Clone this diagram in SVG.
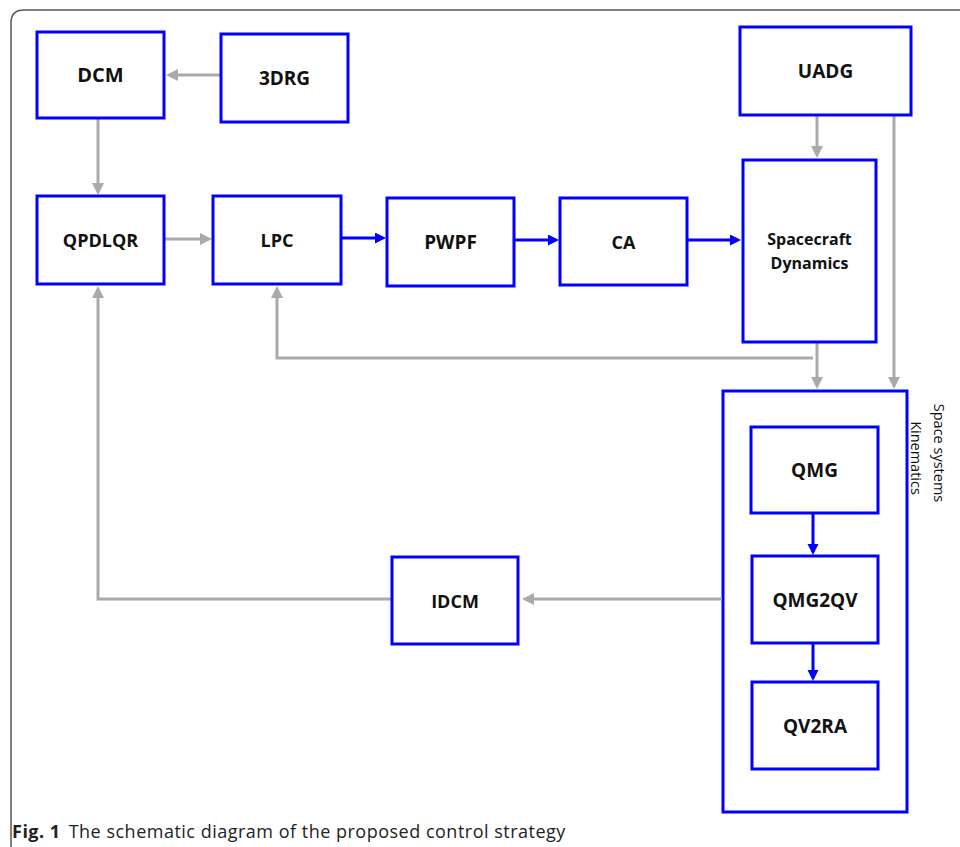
<svg xmlns="http://www.w3.org/2000/svg" width="960" height="847" viewBox="0 0 960 847">
<style>
.box{fill:#fff;stroke:#0000ff;stroke-width:3}
.frame{fill:none;stroke:#0000ff;stroke-width:3}
.lbl{font-family:"Open Sans","Liberation Sans",sans-serif;font-weight:bold;font-size:19px;fill:#111;text-anchor:middle}
.g{fill:none;stroke:#aaaaaa;stroke-width:3}
.b{fill:none;stroke:#0000ff;stroke-width:3}
.side{font-family:"Open Sans","Liberation Sans",sans-serif;font-size:14.5px;fill:#111;text-anchor:middle}
.cap{font-family:"Open Sans","Liberation Sans",sans-serif;font-size:18px;fill:#222;letter-spacing:0.5px}
</style>
<defs>
<marker id="ag" markerUnits="userSpaceOnUse" markerWidth="13" markerHeight="13" refX="9" refY="6" orient="auto">
<path d="M0,0 L12,6 L0,12 z" fill="#aaaaaa"/>
</marker>
<marker id="ab" markerUnits="userSpaceOnUse" markerWidth="13" markerHeight="13" refX="8" refY="5.5" orient="auto">
<path d="M0,0 L11,5.5 L0,11 z" fill="#0000ff"/>
</marker>
</defs>
<rect width="960" height="847" fill="#fff"/>
<path d="M11,847 L11,23 Q11,10 24,10 L960,10" fill="none" stroke="#555" stroke-width="1.5"/>

<g id="SpaceSystemsKinematics"><rect class="frame" x="723" y="391" width="184" height="421"/><text class="side" transform="translate(934,453) rotate(90)">Space systems</text><text class="side" transform="translate(911,458) rotate(90)">Kinematics</text></g>

<g id="connectors">
<line class="g" x1="220" y1="75" x2="169" y2="75" marker-end="url(#ag)"/>
<line class="g" x1="98" y1="118" x2="98" y2="192" marker-end="url(#ag)"/>
<line class="g" x1="164" y1="239" x2="209" y2="239" marker-end="url(#ag)"/>
<line class="g" x1="817" y1="115" x2="817" y2="155" marker-end="url(#ag)"/>
<line class="g" x1="894" y1="115" x2="894" y2="386" marker-end="url(#ag)"/>
<line class="g" x1="817" y1="342" x2="817" y2="386" marker-end="url(#ag)"/>
<polyline class="g" points="813,358 277,358 277,289" marker-end="url(#ag)"/>
<line class="g" x1="722" y1="599" x2="525" y2="599" marker-end="url(#ag)"/>
<polyline class="g" points="392,599 98,599 98,289" marker-end="url(#ag)"/>
<line class="b" x1="341" y1="238" x2="383" y2="238" marker-end="url(#ab)"/>
<line class="b" x1="514" y1="240" x2="556" y2="240" marker-end="url(#ab)"/>
<line class="b" x1="687" y1="240" x2="738" y2="240" marker-end="url(#ab)"/>
<line class="b" x1="813" y1="513" x2="813" y2="552" marker-end="url(#ab)"/>
<line class="b" x1="813" y1="643" x2="813" y2="678" marker-end="url(#ab)"/>
</g>

<g id="DCM"><rect class="box" x="37" y="32" width="127" height="86"/><text class="lbl" x="100.5" y="82" style="font-size:20px">DCM</text></g>
<g id="3DRG"><rect class="box" x="221" y="34" width="127" height="88"/><text class="lbl" x="284.5" y="85">3DRG</text></g>
<g id="UADG"><rect class="box" x="740" y="27" width="171" height="88"/><text class="lbl" x="825.5" y="78">UADG</text></g>
<g id="QPDLQR"><rect class="box" x="37" y="196" width="127" height="88"/><text class="lbl" x="100.5" y="247" style="font-size:18px">QPDLQR</text></g>
<g id="LPC"><rect class="box" x="213" y="196" width="128" height="88"/><text class="lbl" x="277" y="247" style="font-size:18px">LPC</text></g>
<g id="PWPF"><rect class="box" x="387" y="198" width="127" height="88"/><text class="lbl" x="450.5" y="249">PWPF</text></g>
<g id="CA"><rect class="box" x="560" y="198" width="127" height="87"/><text class="lbl" x="623.5" y="249" style="font-size:18px">CA</text></g>
<g id="SpacecraftDynamics"><rect class="box" x="743" y="160" width="133" height="182"/><text class="lbl" x="809.5" y="245" style="font-size:16px">Spacecraft</text><text class="lbl" x="809.5" y="269" style="font-size:16px">Dynamics</text></g>
<g id="QMG"><rect class="box" x="751" y="427" width="127" height="86"/><text class="lbl" x="814.5" y="477">QMG</text></g>
<g id="QMG2QV"><rect class="box" x="752" y="556" width="126" height="87"/><text class="lbl" x="815" y="607">QMG2QV</text></g>
<g id="QV2RA"><rect class="box" x="752" y="682" width="126" height="87"/><text class="lbl" x="815" y="733">QV2RA</text></g>
<g id="IDCM"><rect class="box" x="392" y="557" width="126" height="87"/><text class="lbl" x="455" y="608" style="font-size:18px">IDCM</text></g>

<text class="cap" x="12" y="838"><tspan font-weight="bold">Fig. 1</tspan><tspan dx="8">The schematic diagram of the proposed control strategy</tspan></text>
</svg>
